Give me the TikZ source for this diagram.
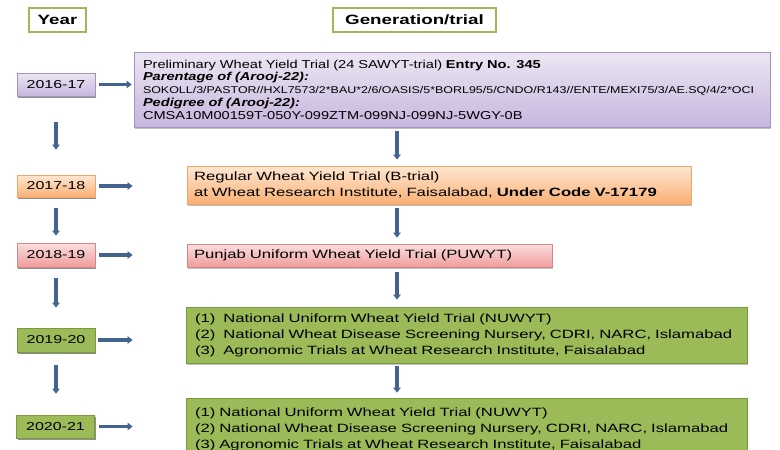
\documentclass[tikz,border=0pt]{standalone}
\usepackage{fontspec}
\setmainfont{Liberation Sans}[FakeStretch=1.39]
\newfontfamily\purfont{Liberation Sans}[FakeStretch=1.27]
\usetikzlibrary{arrows.meta,shadows}
\definecolor{arrowblue}{HTML}{43648E}
\definecolor{hdrgreen}{HTML}{9BBB59}
\definecolor{purtop}{HTML}{ECE6F3}
\definecolor{purbot}{HTML}{C6B6DD}
\definecolor{purline}{HTML}{A493C0}
\definecolor{ortop}{HTML}{FEE7D2}
\definecolor{orbot}{HTML}{F9B074}
\definecolor{orline}{HTML}{F2A565}
\definecolor{pktop}{HTML}{FBDEDE}
\definecolor{pkbot}{HTML}{F09C9C}
\definecolor{pkline}{HTML}{D98686}
\definecolor{grfill}{HTML}{9BBB59}
\definecolor{grline}{HTML}{7A9A40}
\tikzset{
  shadowed/.style={drop shadow={shadow xshift=1pt,shadow yshift=-1.5pt,opacity=0.25,fill=black}},
  hdr/.style={draw=hdrgreen,line width=1.6pt,fill=white,inner sep=0pt,
    font=\fontsize{13.5}{15}\selectfont\bfseries},
  yearbox/.style={rectangle,inner sep=0pt,minimum width=78pt,line width=0.8pt,shadowed,
    font=\fontsize{11.5}{13}\selectfont},
  purplebox/.style={shadowed,draw=purline,line width=0.8pt,top color=purtop,bottom color=purbot},
  orangebox/.style={shadowed,draw=orline,line width=0.8pt,top color=ortop,bottom color=orbot},
  pinkbox/.style={shadowed,draw=pkline,line width=0.8pt,top color=pktop,bottom color=pkbot},
  greenbox/.style={shadowed,draw=grline,line width=0.8pt,fill=grfill},
  trialbox/.style={rectangle,align=left,inner ysep=0pt},
  arr/.style={draw=arrowblue,line width=3.2pt,-{Triangle[length=5pt,width=7.5pt]}}
}
\begin{document}
\begin{tikzpicture}[x=1pt,y=-1pt]
\useasboundingbox (0,0) rectangle (780,450);
\clip (0,0) rectangle (780,450);

% headers
\node[hdr,minimum width=57pt,minimum height=24pt] (hyear) at (57.5,20) {Year};
\node[hdr,minimum width=163pt,minimum height=24pt] (hgen) at (414.5,20) {Generation/trial};

% year boxes
\node[yearbox,purplebox,minimum height=23pt] (y1) at (56,84.5) {2016-17};
\node[yearbox,orangebox,minimum height=22pt] (y2) at (56,186) {2017-18};
\node[yearbox,pinkbox,minimum height=24pt] (y3) at (56,255) {2018-19};
\node[yearbox,greenbox,minimum height=24pt] (y4) at (56,340) {2019-20};
\node[yearbox,greenbox,minimum height=23pt] (y5) at (55.5,426.5) {2020-21};

% trial boxes
\node[trialbox,purplebox,text width=618pt,inner xsep=9pt,minimum height=75pt,
  font=\purfont\fontsize{11.5}{12.8}\selectfont] (p1) at (452,89.5)
  {Preliminary Wheat Yield Trial (24 SAWYT-trial) \textbf{Entry No. 345}\\
   \textbf{\textit{Parentage of (Arooj-22):}}\\
   {\fontsize{9.8}{12.8}\selectfont SOKOLL/3/PASTOR//HXL7573/2*BAU*2/6/OASIS/5*BORL95/5/CNDO/R143//ENTE/MEXI75/3/AE.SQ/4/2*OCI}\\
   \textbf{\textit{Pedigree of (Arooj-22):}}\\
   CMSA10M00159T-050Y-099ZTM-099NJ-099NJ-5WGY-0B};

\node[trialbox,orangebox,text width=490pt,inner xsep=7pt,minimum height=38pt,
  font=\fontsize{12}{16}\selectfont] (p2) at (439,185)
  {Regular Wheat Yield Trial (B-trial)\\
   at Wheat Research Institute, Faisalabad, \textbf{Under Code V-17179}};

\node[trialbox,pinkbox,text width=351pt,inner xsep=7pt,minimum height=23pt,
  font=\fontsize{12}{16}\selectfont] (p3) at (369.5,255.5)
  {Punjab Uniform Wheat Yield Trial (PUWYT)};

\node[trialbox,greenbox,text width=543pt,inner xsep=9pt,minimum height=56pt,
  font=\fontsize{12}{16}\selectfont] (p4) at (466.5,335)
  {(1)~~National Uniform Wheat Yield Trial (NUWYT)\\
   (2)~~National Wheat Disease Screening Nursery, CDRI, NARC, Islamabad\\
   (3)~~Agronomic Trials at Wheat Research Institute, Faisalabad};

\node[trialbox,greenbox,text width=543pt,inner xsep=9pt,minimum height=62pt,
  font=\fontsize{12}{16}\selectfont] (p5) at (466.5,429)
  {(1) National Uniform Wheat Yield Trial (NUWYT)\\
   (2) National Wheat Disease Screening Nursery, CDRI, NARC, Islamabad\\
   (3) Agronomic Trials at Wheat Research Institute, Faisalabad};

% left vertical arrows
\draw[arr,shorten <=26pt,shorten >=25pt] (y1.south) -- (y1.south |- y2.north);
\draw[arr,shorten <=11pt,shorten >=7pt] (y2.south) -- (y2.south |- y3.north);
\draw[arr,shorten <=11pt,shorten >=20pt] (y3.south) -- (y3.south |- y4.north);
\draw[arr,shorten <=13pt,shorten >=21pt] (y4.south) -- (y4.south |- y5.north);

% horizontal arrows
\draw[arr,shorten <=4pt,shorten >=2pt] (y1.east) -- (y1.east -| p1.west);
\draw[arr,shorten <=4pt,shorten >=54pt] (y2.east) -- (y2.east -| p2.west);
\draw[arr,shorten <=4pt,shorten >=54pt] (y3.east) -- (y3.east -| p3.west);
\draw[arr,shorten <=3pt,shorten >=53pt] (y4.east) -- (y4.east -| p4.west);
\draw[arr,shorten <=4pt,shorten >=53pt] (y5.east) -- (y5.east -| p5.west);

% centre vertical arrows
\coordinate (cx) at (397,0);
\draw[arr,shorten <=4pt,shorten >=6pt] (p1.south -| cx) -- (p2.north -| cx);
\draw[arr,shorten <=4pt,shorten >=6pt] (p2.south -| cx) -- (p3.north -| cx);
\draw[arr,shorten <=5pt,shorten >=7pt] (p3.south -| cx) -- (p4.north -| cx);
\draw[arr,shorten <=3pt,shorten >=5pt] (p4.south -| cx) -- (p5.north -| cx);
\end{tikzpicture}
\end{document}
